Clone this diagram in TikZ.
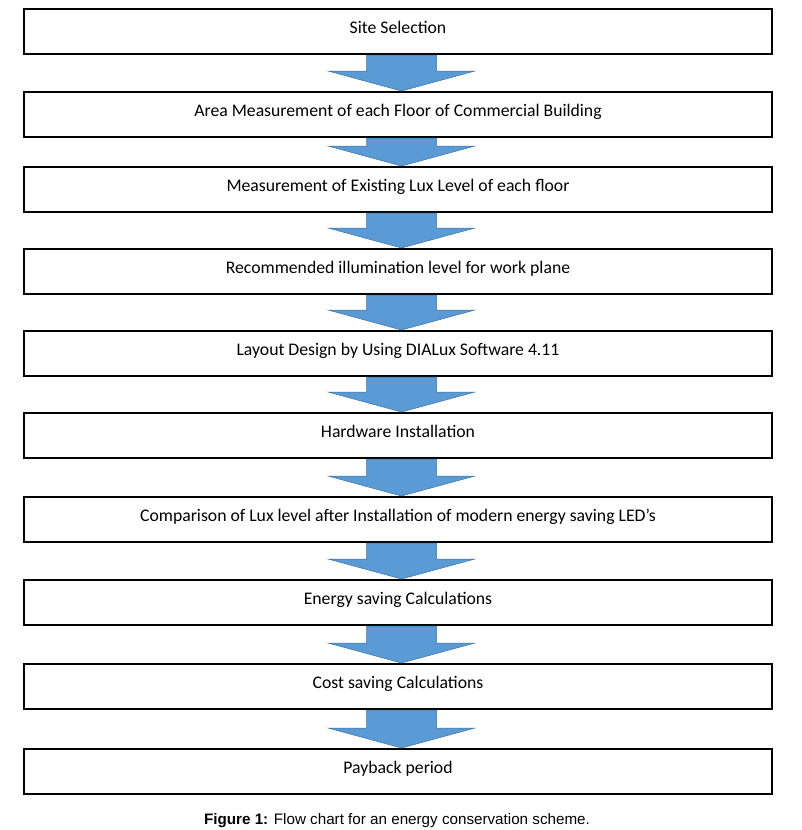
\documentclass[tikz,border=0pt]{standalone}
\usepackage{fontspec}
\setmainfont{Carlito}
\newfontfamily\capfont{Liberation Sans}
\usepackage{tikz}
\usetikzlibrary{calc}
\definecolor{arrowblue}{HTML}{5B9BD5}
\definecolor{arrowedge}{HTML}{41719C}
\tikzstyle{stepbox} = [draw=black, fill=white, line width=2pt,
    rectangle, minimum width=748pt, minimum height=45pt,
    text height=11pt, text depth=8pt, font=\fontsize{17.7}{21}\selectfont]
\tikzstyle{flowarrow} = [fill=arrowblue, draw=arrowedge, line width=0.5pt, line join=miter]
\tikzstyle{captiontext} = [font=\capfont\fontsize{15.2}{18}\selectfont, inner sep=0pt]
% block arrow from the bottom of one box to the top of the next
\newcommand{\blockarrow}[2]{%
  \draw[flowarrow] let \p1=(#1.south), \p2=(#2.north) in
    (\x1-31.5pt,\y1) -- (\x1+38.5pt,\y1) -- (\x1+38.5pt,\y2+20pt)
    -- (\x1+77pt,\y2+20pt) -- (\x1+3.5pt,\y2) -- (\x1-70pt,\y2+20pt)
    -- (\x1-31.5pt,\y2+20pt) -- cycle;}

\begin{document}
\begin{tikzpicture}[x=1pt, y=-1pt]
\useasboundingbox (0,0) rectangle (802,830);
\node[stepbox] (site) at (398,31.5) {Site Selection};
\node[stepbox] (area) at (398,114.5) {Area Measurement of each Floor of Commercial Building};
\node[stepbox] (lux) at (398,189.5) {Measurement of Existing Lux Level of each floor};
\node[stepbox] (recom) at (398,271.5) {Recommended illumination level for work plane};
\node[stepbox] (layout) at (398,353.5) {Layout Design by Using DIALux Software 4.11};
\node[stepbox] (hardware) at (398,435.5) {Hardware Installation};
\node[stepbox] (compare) at (398,519.5) {Comparison of Lux level after Installation of modern energy saving LED’s};
\node[stepbox] (energy) at (398,602.5) {Energy saving Calculations};
\node[stepbox] (cost) at (398,686.5) {Cost saving Calculations};
\node[stepbox] (payback) at (398,771.5) {Payback period};

\blockarrow{site}{area}
\blockarrow{area}{lux}
\blockarrow{lux}{recom}
\blockarrow{recom}{layout}
\blockarrow{layout}{hardware}
\blockarrow{hardware}{compare}
\blockarrow{compare}{energy}
\blockarrow{energy}{cost}
\blockarrow{cost}{payback}

\node[captiontext, anchor=base] (caption) at (397,824) {\textbf{Figure 1:} Flow chart for an energy conservation scheme.};
\end{tikzpicture}
\end{document}
